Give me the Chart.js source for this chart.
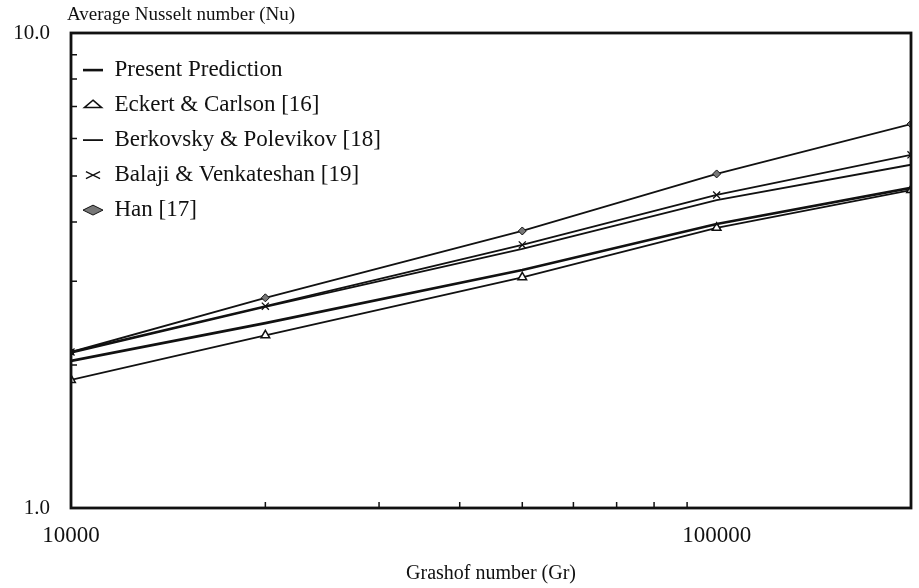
<!DOCTYPE html>
<html>
<head>
<meta charset="utf-8">
<script src="https://cdn.jsdelivr.net/npm/chart.js@4.4.1/dist/chart.umd.min.js"></script>
<style>
  html, body { margin: 0; padding: 0; background: #fff; }
  #wrap { width: 919px; height: 588px; position: relative; }
</style>
</head>
<body>
<div id="wrap"><canvas id="chart"></canvas></div>
<script>
// Grashof number (x) and average Nusselt number for each correlation
const grashof = [10000, 20000, 50000, 100000, 200000]
const present = [2.04, 2.45, 3.17, 3.96, 4.72]
const eckert = [1.86, 2.31, 3.06, 3.89, 4.67]
const berkovsky = [2.12, 2.65, 3.51, 4.45, 5.28]
const balaji = [2.13, 2.66, 3.58, 4.56, 5.54]
const han = [2.13, 2.77, 3.83, 5.05, 6.43]

const xLabelTicks = [10000, 100000]
const yLabelTicks = [1, 10]
const xMinorTicks = [20000, 30000, 40000, 50000, 60000, 70000, 80000, 90000]
const yMinorTicks = [2, 3, 4, 5, 6, 7, 8, 9]

const serif = "'Liberation Serif', 'DejaVu Serif', serif"
const ink = "#111"

const pts = (ys) => grashof.map((x, i) => ({ x: x, y: ys[i] }))

// frame, inward minor ticks and the y-axis caption
const framePlugin = {
  id: "frame",
  afterDatasetsDraw(chart) {
    const { ctx, chartArea: a, scales } = chart
    ctx.save()
    ctx.strokeStyle = ink
    ctx.lineWidth = 2.8
    ctx.strokeRect(a.left, a.top, a.right - a.left, a.bottom - a.top)
    ctx.lineWidth = 1.5
    ctx.beginPath()
    xMinorTicks.forEach(v => {
      const px = scales.x.getPixelForValue(v)
      ctx.moveTo(px, a.bottom)
      ctx.lineTo(px, a.bottom - 6)
    })
    yMinorTicks.forEach(v => {
      const py = scales.y.getPixelForValue(v)
      ctx.moveTo(a.left, py)
      ctx.lineTo(a.left + 6, py)
    })
    ctx.stroke()
    ctx.fillStyle = ink
    ctx.font = "19px " + serif
    ctx.textBaseline = "middle"
    ctx.fillText("Average Nusselt number (Nu)", a.left - 4, a.top - 18)
    ctx.restore()
  }
}

new Chart(document.getElementById("chart"), {
  type: "line",
  data: {
    datasets: [
      { label: "Present Prediction", data: pts(present), borderColor: ink, borderWidth: 2.6,
        pointRadius: 0, pointStyle: "line" },
      { label: "Eckert & Carlson [16]", data: pts(eckert), borderColor: ink, borderWidth: 1.8,
        pointStyle: "triangle", pointRadius: 5, backgroundColor: "#fff", pointBorderWidth: 1.5 },
      { label: "Berkovsky & Polevikov [18]", data: pts(berkovsky), borderColor: ink, borderWidth: 1.8,
        pointRadius: 0, pointStyle: "line" },
      { label: "Balaji & Venkateshan [19]", data: pts(balaji), borderColor: ink, borderWidth: 1.8,
        pointStyle: "crossRot", pointRadius: 5, pointBorderWidth: 1.3 },
      { label: "Han [17]", data: pts(han), borderColor: ink, borderWidth: 1.8,
        pointStyle: "rectRot", pointRadius: 4, backgroundColor: "#777", pointBorderWidth: 1 }
    ]
  },
  options: {
    responsive: true,
    maintainAspectRatio: false,
    animation: false,
    layout: { padding: { top: 33, right: 8, left: 0, bottom: 0 } },
    plugins: {
      legend: {
        position: "chartArea",
        align: "start",
        title: { display: true, text: " ", font: { size: 8 }, padding: { top: 35, bottom: 2 } },
        labels: {
          usePointStyle: true,
          pointStyleWidth: 20,
          boxHeight: 7,
          padding: 12,
          color: ink,
          font: { family: serif, size: 23 }
        }
      },
      tooltip: { enabled: false }
    },
    scales: {
      x: {
        type: "logarithmic",
        min: 10000,
        max: 200000,
        grid: { display: false },
        border: { display: false },
        afterBuildTicks: (s) => { s.ticks = xLabelTicks.map(v => ({ value: v })) },
        afterFit: (s) => { s.height = 80 },
        ticks: {
          color: ink,
          padding: 6,
          maxRotation: 0,
          autoSkip: false,
          font: { family: serif, size: 23 },
          callback: (v) => String(v)
        },
        title: {
          display: true,
          text: "Grashof number (Gr)",
          color: ink,
          font: { family: serif, size: 20 },
          padding: { top: 0, bottom: 2 }
        }
      },
      y: {
        type: "logarithmic",
        min: 1,
        max: 10,
        grid: { display: false },
        border: { display: false },
        afterBuildTicks: (s) => { s.ticks = yLabelTicks.map(v => ({ value: v })) },
        afterFit: (s) => { s.width = 71 },
        ticks: {
          color: ink,
          padding: 13,
          font: { family: serif, size: 21 },
          callback: (v) => Number(v).toFixed(1)
        }
      }
    }
  },
  plugins: [framePlugin]
})
</script>
</body>
</html>
